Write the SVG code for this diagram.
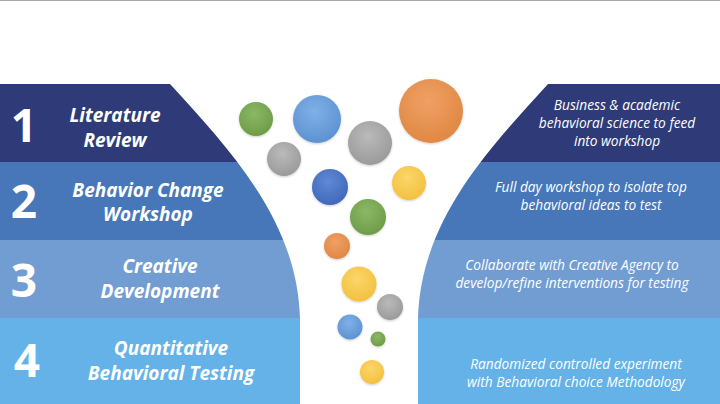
<svg xmlns="http://www.w3.org/2000/svg" width="720" height="404" viewBox="0 0 720 404">
<defs>
<style>
.num{font-family:"Open Sans","Liberation Sans",sans-serif;font-weight:700;font-size:46px;fill:#fff;text-anchor:middle}
.lbl{font-family:"Open Sans","Liberation Sans",sans-serif;font-weight:700;font-style:italic;font-size:19px;fill:#fff;text-anchor:middle}
.desc{font-family:"Open Sans","Liberation Sans",sans-serif;font-style:italic;font-size:13.7px;fill:#fff;text-anchor:middle}
</style>
<clipPath id="leftClip"><path d="M0,84 L170,84 C230,150 297,220 300,318 L300,404 L0,404 Z"/></clipPath>
<clipPath id="rightClip"><path d="M720,84 L548,84 C488,150 421,220 418,318 L418,404 L720,404 Z"/></clipPath>
<radialGradient id="gGreen" cx="0.45" cy="0.35" r="0.7"><stop offset="0" stop-color="#8cb866"/><stop offset="1" stop-color="#6c9a45"/></radialGradient>
<radialGradient id="gBlue" cx="0.45" cy="0.35" r="0.7"><stop offset="0" stop-color="#7fb0e6"/><stop offset="1" stop-color="#5b8fd0"/></radialGradient>
<radialGradient id="gDBlue" cx="0.45" cy="0.35" r="0.7"><stop offset="0" stop-color="#5f8ad6"/><stop offset="1" stop-color="#3e66b8"/></radialGradient>
<radialGradient id="gGray" cx="0.45" cy="0.35" r="0.7"><stop offset="0" stop-color="#bababa"/><stop offset="1" stop-color="#989898"/></radialGradient>
<radialGradient id="gOrange" cx="0.45" cy="0.35" r="0.7"><stop offset="0" stop-color="#f0a066"/><stop offset="1" stop-color="#df8640"/></radialGradient>
<radialGradient id="gYellow" cx="0.45" cy="0.35" r="0.7"><stop offset="0" stop-color="#fbd66a"/><stop offset="1" stop-color="#f2bf3c"/></radialGradient>
<filter id="sh" x="-30%" y="-30%" width="160%" height="160%"><feDropShadow dx="0" dy="1" stdDeviation="1" flood-color="#000" flood-opacity="0.2"/></filter>
</defs>
<rect width="720" height="404" fill="#fff"/>
<line x1="0" y1="0.5" x2="720" y2="0.5" stroke="#a8a8a8" stroke-width="1"/>

<g id="left-bands" clip-path="url(#leftClip)">
<rect x="0" y="84" width="300" height="78" fill="#2f3b78"/>
<rect x="0" y="162" width="300" height="78" fill="#4777b9"/>
<rect x="0" y="240" width="300" height="78" fill="#729dd3"/>
<rect x="0" y="318" width="300" height="86" fill="#64b2e8"/>
</g>
<g id="right-bands" clip-path="url(#rightClip)">
<rect x="418" y="84" width="302" height="78" fill="#2f3b78"/>
<rect x="418" y="162" width="302" height="78" fill="#4777b9"/>
<rect x="418" y="240" width="302" height="78" fill="#729dd3"/>
<rect x="418" y="318" width="302" height="86" fill="#64b2e8"/>
</g>

<g id="step1">
<text class="num" x="24" y="142">1</text>
<text class="lbl" x="115" y="122">Literature</text>
<text class="lbl" x="115" y="147">Review</text>
<text class="desc" x="617" y="110">Business &amp; academic</text>
<text class="desc" x="617" y="128">behavioral science to feed</text>
<text class="desc" x="617" y="146">into workshop</text>
</g>
<g id="step2">
<text class="num" x="24" y="218">2</text>
<text class="lbl" x="148" y="197">Behavior Change</text>
<text class="lbl" x="148" y="221">Workshop</text>
<text class="desc" x="591" y="192">Full day workshop to isolate top</text>
<text class="desc" x="591" y="210">behavioral ideas to test</text>
</g>
<g id="step3">
<text class="num" x="24" y="297">3</text>
<text class="lbl" x="160" y="273">Creative</text>
<text class="lbl" x="160" y="298">Development</text>
<text class="desc" x="572" y="270">Collaborate with Creative Agency to</text>
<text class="desc" x="572" y="288">develop/refine interventions for testing</text>
</g>
<g id="step4">
<text class="num" x="27" y="377">4</text>
<text class="lbl" x="171" y="355">Quantitative</text>
<text class="lbl" x="171" y="380">Behavioral Testing</text>
<text class="desc" x="576" y="369">Randomized controlled experiment</text>
<text class="desc" x="576" y="387">with Behavioral choice Methodology</text>
</g>

<g id="circles" filter="url(#sh)">
<circle cx="256" cy="119" r="17" fill="url(#gGreen)"/>
<circle cx="317" cy="119" r="24" fill="url(#gBlue)"/>
<circle cx="284" cy="159" r="17" fill="url(#gGray)"/>
<circle cx="370" cy="143" r="22" fill="url(#gGray)"/>
<circle cx="431" cy="111" r="32" fill="url(#gOrange)"/>
<circle cx="330" cy="187" r="18" fill="url(#gDBlue)"/>
<circle cx="409" cy="183" r="17" fill="url(#gYellow)"/>
<circle cx="368" cy="217" r="18" fill="url(#gGreen)"/>
<circle cx="337" cy="246" r="13" fill="url(#gOrange)"/>
<circle cx="359" cy="284" r="17.5" fill="url(#gYellow)"/>
<circle cx="390" cy="307" r="13" fill="url(#gGray)"/>
<circle cx="350" cy="327" r="12.5" fill="url(#gBlue)"/>
<circle cx="378" cy="339" r="7.5" fill="url(#gGreen)"/>
<circle cx="372" cy="372" r="12" fill="url(#gYellow)"/>
</g>
</svg>
